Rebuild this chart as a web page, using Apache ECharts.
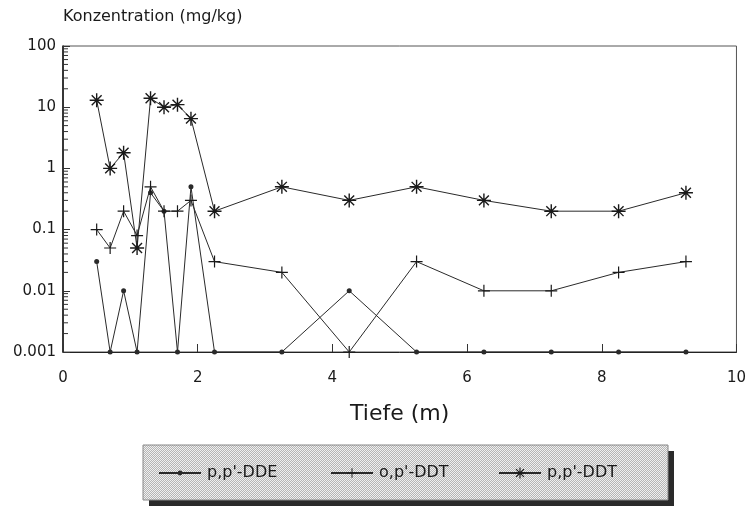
<!DOCTYPE html>
<html>
<head>
<meta charset="utf-8">
<script src="https://cdn.jsdelivr.net/npm/echarts@6/dist/echarts.min.js"></script>
<style>
  html, body { margin: 0; padding: 0; background: #ffffff; }
  #chart { width: 749px; height: 507px; }
</style>
</head>
<body>
<div id="chart"></div>
<script>
// Tiefe (m)
const depth = [0.5, 0.7, 0.9, 1.1, 1.3, 1.5, 1.7, 1.9, 2.25, 3.25, 4.25, 5.25, 6.25, 7.25, 8.25, 9.25]
// Konzentration (mg/kg)
const ppDDE = [0.03, 0.001, 0.01, 0.001, 0.4, 0.2, 0.001, 0.5, 0.001, 0.001, 0.01, 0.001, 0.001, 0.001, 0.001, 0.001]
const opDDT = [0.1, 0.05, 0.2, 0.08, 0.5, 0.2, 0.2, 0.3, 0.03, 0.02, 0.001, 0.03, 0.01, 0.01, 0.02, 0.03]
const ppDDT = [13, 1, 1.8, 0.05, 14, 10, 11, 6.5, 0.2, 0.5, 0.3, 0.5, 0.3, 0.2, 0.2, 0.4]
const seriesNames = ["p,p'-DDE", "o,p'-DDT", "p,p'-DDT"]
// log axis decades and minor tick multipliers
const decades = [0.001, 0.01, 0.1, 1, 10]
const minorSteps = [2, 3, 4, 5, 6, 7, 8, 9]

const FONT = '"DejaVu Sans", Verdana, sans-serif'
const INK = '#1a1a1a'

const plusPath = 'path://M9,0h2v9h9v2h-9v9h-2v-9h-9v-2h9z'
const starPath = 'path://M0,9H20V11H0Z M9,0H11V20H9Z ' +
  'M3.64,2.22L17.78,16.36L16.36,17.78L2.22,3.64Z ' +
  'M2.22,16.36L16.36,2.22L17.78,3.64L3.64,17.78Z'

const minorTicks = []
decades.forEach(d => minorSteps.forEach(m => minorTicks.push([0, d * m])))

function pair(values) {
  return depth.map((x, i) => [x, values[i]])
}

// dotted grey fill for the legend box
const pat = document.createElement('canvas')
pat.width = 2
pat.height = 2
const pctx = pat.getContext('2d')
pctx.fillStyle = '#f0f0f0'
pctx.fillRect(0, 0, 2, 2)
pctx.fillStyle = '#b5b5b5'
pctx.fillRect(1, 0, 1, 1)
pctx.fillRect(0, 1, 1, 1)

const chart = echarts.init(document.getElementById('chart'))

function legendItem(name, left, h) {
  return {
    data: [name],
    left: left,
    top: 465,
    itemWidth: 42,
    itemHeight: h,
    padding: 0,
    selectedMode: false,
    textStyle: { fontFamily: FONT, fontSize: 16, color: INK, padding: [0, 0, 0, 1] }
  }
}

chart.setOption({
  backgroundColor: '#ffffff',
  animation: false,
  textStyle: { fontFamily: FONT },
  grid: {
    left: 63,
    right: 11,
    top: 46,
    bottom: 155,
    show: true,
    borderColor: '#555',
    borderWidth: 1
  },
  graphic: [
    { // legend shadow
      type: 'rect',
      z: 1,
      shape: { x: 149, y: 451, width: 525, height: 55 },
      style: { fill: '#2a2a2a' }
    },
    { // legend box
      type: 'rect',
      z: 2,
      shape: { x: 143, y: 445, width: 525, height: 55 },
      style: { fill: { image: pat, repeat: 'repeat' }, stroke: '#888', lineWidth: 1 }
    }
  ],
  legend: [
    legendItem(seriesNames[0], 158, 6),
    legendItem(seriesNames[1], 330, 12),
    legendItem(seriesNames[2], 498, 14)
  ],
  xAxis: {
    type: 'value',
    min: 0,
    max: 10,
    interval: 2,
    name: 'Tiefe (m)',
    nameLocation: 'middle',
    nameGap: 51,
    nameTextStyle: { fontSize: 22, color: INK, fontFamily: FONT },
    axisLine: { lineStyle: { color: '#222', width: 1 } },
    axisTick: { inside: true, length: 8, lineStyle: { color: '#333' } },
    axisLabel: { fontSize: 15, color: INK, margin: 19, fontFamily: FONT },
    splitLine: { show: false }
  },
  yAxis: {
    type: 'log',
    logBase: 10,
    min: 0.001,
    max: 100,
    name: 'Konzentration (mg/kg)',
    nameLocation: 'end',
    nameGap: 29,
    nameTextStyle: { fontSize: 16, color: INK, align: 'left', verticalAlign: 'middle', fontFamily: FONT },
    axisLine: { show: true, lineStyle: { color: '#111', width: 1.5 } },
    axisTick: { inside: true, length: 7, lineStyle: { color: '#333' } },
    axisLabel: {
      fontSize: 15,
      color: INK,
      margin: 7,
      fontFamily: FONT,
      formatter: v => String(Number(v.toPrecision(1)))
    },
    splitLine: { show: false }
  },
  series: [
    {
      name: seriesNames[0],
      type: 'line',
      data: pair(ppDDE),
      symbol: 'circle',
      symbolSize: 5,
      lineStyle: { color: '#2a2a2a', width: 1 },
      itemStyle: { color: '#2a2a2a' }
    },
    {
      name: seriesNames[1],
      type: 'line',
      data: pair(opDDT),
      symbol: plusPath,
      symbolSize: 12,
      lineStyle: { color: '#2a2a2a', width: 1 },
      itemStyle: { color: '#1a1a1a' }
    },
    {
      name: seriesNames[2],
      type: 'line',
      data: pair(ppDDT),
      symbol: starPath,
      symbolSize: 14,
      lineStyle: { color: '#2a2a2a', width: 1 },
      itemStyle: { color: '#1a1a1a' }
    },
    { // minor ticks of the log axis
      type: 'custom',
      silent: true,
      data: minorTicks,
      renderItem(params, api) {
        const p = api.coord([0, api.value(1)])
        return {
          type: 'line',
          shape: { x1: p[0], y1: p[1], x2: p[0] + 5, y2: p[1] },
          style: { stroke: '#333', lineWidth: 1 }
        }
      }
    }
  ]
})
</script>
</body>
</html>
